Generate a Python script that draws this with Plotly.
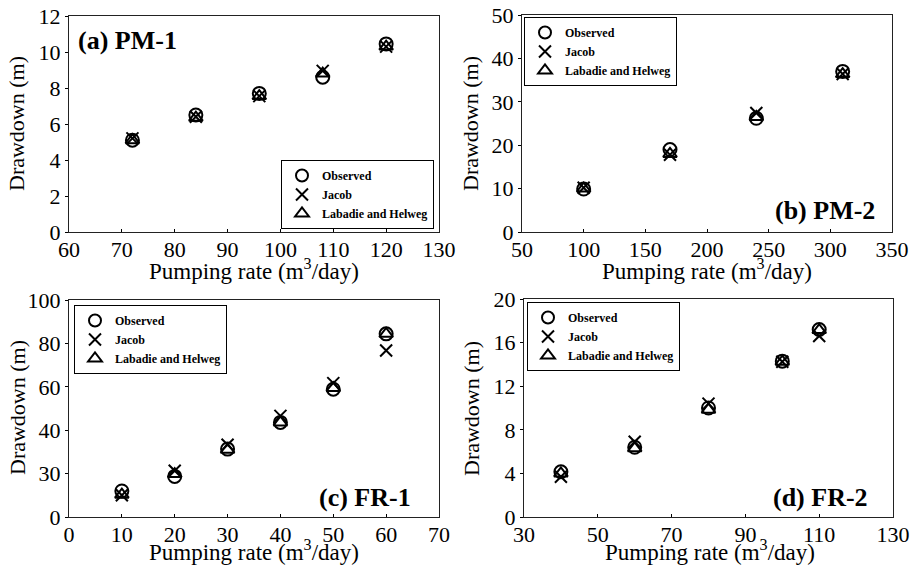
import plotly.graph_objects as go

# ---------------- data ----------------
a_rate = [72, 84, 96, 108, 120]
a_obs = [5.1, 6.5, 7.7, 8.6, 10.45]
a_jacob = [5.2, 6.4, 7.55, 8.95, 10.3]
a_lh = [5.1, 6.35, 7.55, 8.8, 10.3]

b_rate = [100, 170, 240, 310]
b_obs = [9.9, 19.0, 26.2, 37.0]
b_jacob = [10.2, 17.8, 27.4, 36.4]
b_lh = [10.0, 18.0, 26.5, 36.4]

c_rate = [10, 20, 30, 40, 50, 60]
c_obs = [12.0, 18.7, 31.3, 43.6, 58.9, 84.4]
c_jacob = [10.0, 21.3, 33.3, 46.6, 61.7, 76.7]
c_lh = [10.3, 19.8, 31.0, 43.6, 59.4, 84.4]

d_rate = [40, 60, 80, 100, 110]
d_obs = [4.15, 6.4, 10.0, 14.3, 17.2]
d_jacob = [3.7, 6.9, 10.4, 14.25, 16.6]
d_lh = [4.0, 6.3, 9.85, 14.25, 17.15]

series_names = ["Observed", "Jacob", "Labadie and Helweg"]
panel_labels = ["(a) PM-1", "(b) PM-2", "(c) FR-1", "(d) FR-2"]
x_title = "Pumping rate (m<sup>3</sup>/day)"
y_title = "Drawdown (m)"

x_ranges = [[60, 130], [50, 350], [0, 70], [30, 130]]
x_dticks = [10, 50, 10, 20]
y_ranges = [[0, 12], [0, 50], [0, 100], [0, 20]]
y_tickvals = [[0, 2, 4, 6, 8, 10, 12], [0, 10, 20, 30, 40, 50],
              [0, 20, 40, 60, 80, 100], [0, 4, 8, 12, 16, 20]]
y_ticktext = [["0", "2", "4", "6", "8", "10", "12"], ["0", "10", "20", "30", "40", "50"],
              ["0", "30", "40", "60", "80", "100"], ["0", "4", "8", "12", "16", "20"]]

panels = [
    (a_rate, [a_obs, a_jacob, a_lh]),
    (b_rate, [b_obs, b_jacob, b_lh]),
    (c_rate, [c_obs, c_jacob, c_lh]),
    (d_rate, [d_obs, d_jacob, d_lh]),
]

# ---------------- layout geometry ----------------
W, H = 915, 571
boxes = [(69, 439, 16, 232), (522, 892, 15, 232), (69, 439, 300, 517), (524, 893, 299, 517)]
FONT = "Liberation Serif, Times New Roman, serif"

symbols = [
    dict(symbol="circle-open", size=13, line=dict(width=2, color="black")),
    dict(symbol="x-thin-open", size=12, line=dict(width=2, color="black")),
    dict(symbol="triangle-up-open", size=12, line=dict(width=2, color="black")),
]

fig = go.Figure()
legend_names = ["legend", "legend2", "legend3", "legend4"]
for i, (rate, ys) in enumerate(panels):
    xa = "x" if i == 0 else f"x{i+1}"
    ya = "y" if i == 0 else f"y{i+1}"
    for j, (name, vals) in enumerate(zip(series_names, ys)):
        fig.add_trace(go.Scatter(
            x=rate, y=vals, mode="markers", name=name,
            marker=dict(color="black", **symbols[j]),
            xaxis=xa, yaxis=ya, legend=legend_names[i], showlegend=True,
        ))

layout = dict(
    width=W, height=H, autosize=False,
    margin=dict(l=0, r=0, t=0, b=0, autoexpand=False),
    paper_bgcolor="white", plot_bgcolor="white",
    font=dict(family=FONT, color="black"),
)

axis_common = dict(
    showline=True, linecolor="#222222", linewidth=1.2, mirror=True, automargin=False,
    ticklen=3, tickcolor="black", showgrid=False, zeroline=False,
    tickfont=dict(family=FONT, size=22, color="black"),
)

for i, (x0, x1, y0, y1) in enumerate(boxes):
    sx = "" if i == 0 else str(i + 1)
    layout[f"xaxis{sx}"] = dict(
        axis_common, domain=[x0 / W, x1 / W], range=x_ranges[i], dtick=x_dticks[i],
        tick0=x_ranges[i][0], anchor=f"y{sx}", ticks="inside", ticklabelstandoff=-3,
    )
    layout[f"yaxis{sx}"] = dict(
        axis_common, domain=[1 - y1 / H, 1 - y0 / H], range=y_ranges[i],
        tickvals=y_tickvals[i], ticktext=y_ticktext[i], anchor=f"x{sx}", ticks="outside",
    )

legend_common = dict(
    bgcolor="white", bordercolor="black", borderwidth=1,
    font=dict(family=FONT, size=12, color="black", weight="bold"),
    itemsizing="constant", tracegroupgap=0, xref="paper", yref="paper",
)
layout["legend"] = dict(legend_common, x=434 / W, xanchor="right", y=1 - 229 / H, yanchor="bottom")
layout["legend2"] = dict(legend_common, x=524 / W, xanchor="left", y=1 - 17 / H, yanchor="top")
layout["legend3"] = dict(legend_common, x=74 / W, xanchor="left", y=1 - 305 / H, yanchor="top")
layout["legend4"] = dict(legend_common, x=527 / W, xanchor="left", y=1 - 302 / H, yanchor="top")

annotations = []
label_pos = [(76, 40, "left"), (877, 210, "right"), (413, 497, "right"), (870, 497, "right")]
for txt, (px, py, anc) in zip(panel_labels, label_pos):
    annotations.append(dict(
        text=f"<b>{txt}</b>", x=px / W, y=1 - py / H, xref="paper", yref="paper",
        xanchor=anc, yanchor="middle", showarrow=False,
        font=dict(family=FONT, size=26, color="black"),
    ))

xt_pos = [(254, 270), (707, 270), (254, 550), (710, 550)]
yt_pos = [(17, 124), (471, 124), (18, 408), (472, 408)]
for (px, py) in xt_pos:
    annotations.append(dict(
        text=x_title, x=px / W, y=1 - py / H, xref="paper", yref="paper",
        xanchor="center", yanchor="middle", showarrow=False,
        font=dict(family=FONT, size=23, color="black"),
    ))
for (px, py) in yt_pos:
    annotations.append(dict(
        text=y_title, x=px / W, y=1 - py / H, xref="paper", yref="paper",
        xanchor="center", yanchor="middle", showarrow=False, textangle=-90,
        font=dict(family=FONT, size=22, color="black"),
    ))
layout["annotations"] = annotations

fig.update_layout(**layout)
fig.write_html("out.html", post_script="document.body.style.margin='0';",
               config={"displayModeBar": False})
